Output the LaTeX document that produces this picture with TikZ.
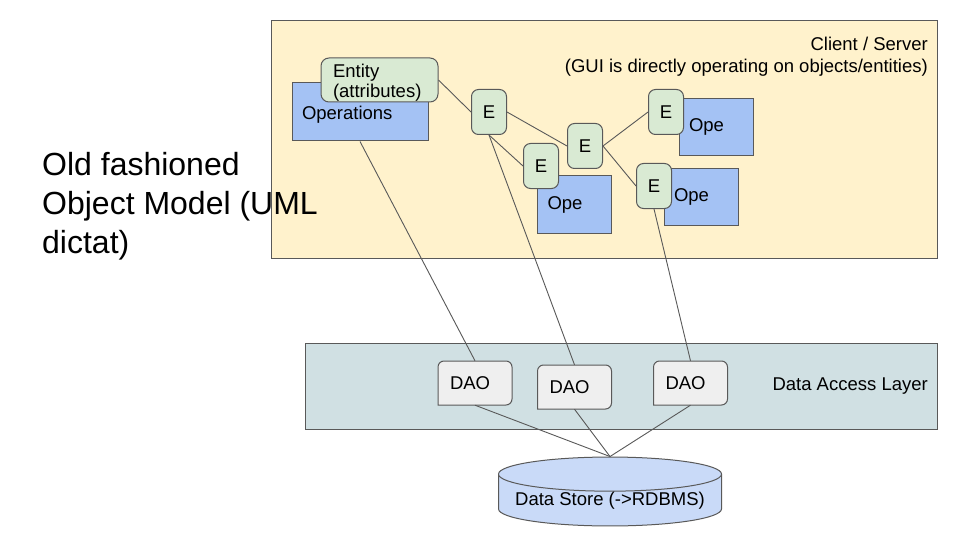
\documentclass[tikz,border=0pt]{standalone}
\usepackage{fontspec}
\setmainfont{Liberation Sans}
\usetikzlibrary{shapes.geometric}
\definecolor{clientbg}{HTML}{FFF2CC}
\definecolor{layerbg}{HTML}{D0E0E3}
\definecolor{opsblue}{HTML}{A4C2F4}
\definecolor{entgreen}{HTML}{D9EAD3}
\definecolor{daogray}{HTML}{EFEFEF}
\definecolor{storeblue}{HTML}{C9DAF8}
\definecolor{edgegray}{HTML}{595959}

\begin{document}
\begin{tikzpicture}[x=1pt,y=-1pt,
    font=\fontsize{18.5}{22}\selectfont,
    panel/.style={draw=edgegray, line width=1pt, anchor=north west, inner sep=0pt},
    opsbox/.style={draw=edgegray, fill=opsblue, line width=1pt, align=left, inner xsep=10pt, inner ysep=0pt},
    ebox/.style={draw=edgegray, fill=entgreen, line width=1pt, rounded corners=7pt, minimum width=35pt, minimum height=45pt, inner sep=0pt},
    daobox/.style={align=left, inner xsep=12pt, text width=50pt, minimum height=44pt, inner ysep=0pt},
    wire/.style={draw=edgegray, line width=0.9pt}]
    \path[fill=white] (0,0) rectangle (960,540);
    \useasboundingbox (0,0) rectangle (960,540);

    % the two layers
    \node[panel, fill=clientbg, minimum width=666pt, minimum height=238pt] (client) at (271,20) {};
    \node[panel, fill=layerbg, minimum width=632pt, minimum height=86pt] (dal) at (305,343) {};
    \node[anchor=north east, align=right, inner sep=0pt] (clientlbl) at ([shift={(-10,17)}]client.north east)
        {Client / Server\\(GUI is directly operating on objects/entities)};
    \node[anchor=east, inner sep=0pt] (dallbl) at ([xshift=-10]dal.east) {Data Access Layer};
    \node[anchor=north west, align=left, inner sep=0pt, font=\fontsize{32}{39}\selectfont] (title) at (42,152)
        {Old fashioned\\Object Model (UML\\dictat)};

    % objects
    \node[opsbox, text width=116pt, text height=19pt, minimum height=58pt] (ops) at (360,112) {Operations};
    \node[opsbox, fill=entgreen, rounded corners=8pt, inner xsep=12pt, text width=93pt, text height=19pt, minimum height=44pt] (entity) at (379.5,80)
        {Entity\\[-2pt](attributes)};
    \foreach \n/\px/\py in {2/574.5/204.5, 4/716/127, 5/701/197}
        \node[opsbox, text width=54pt, minimum height=57pt] (ope\n) at (\px,\py) {Ope};
    \foreach \n/\px/\py in {1/489/112, 2/541/166, 3/585/146, 4/666/112, 5/654/186}
        \node[ebox] (e\n) at (\px,\py) {E};

    % data access objects and store
    \foreach \n/\px/\py in {1/475/383, 2/574.5/387, 3/690.5/383} {
        \draw[draw=edgegray, fill=daogray, line width=1pt] (\px-37,\py+22) [rounded corners=6pt] -- (\px-37,\py-22)
            -- (\px+37,\py-22) -- (\px+37,\py+22) [sharp corners] -- cycle;
        \node[daobox] (dao\n) at (\px,\py) {DAO};
    }
    \node[cylinder, shape border rotate=90, aspect=0.18, draw=edgegray, fill=storeblue, line width=1pt,
        minimum width=223pt, minimum height=67pt, inner sep=0pt, anchor=shape center] (store) at (610,491.5) {Data Store (->RDBMS)};

    % links
    \draw[wire] (entity.east) -- (e1.west);
    \draw[wire] (e1.east) -- (e3.west);
    \draw[wire] (e1.south) -- (e2.west);
    \draw[wire] (e3.east) -- (e4.west);
    \draw[wire] (e3.east) -- (e5.west);
    \draw[wire] (ops.south) -- (dao1.north);
    \draw[wire] (e1.south) -- (dao2.north);
    \draw[wire] (e5.south) -- (dao3.north);
    \foreach \d in {dao1,dao2,dao3}
        \draw[wire] (\d.south) -- (store.north);
\end{tikzpicture}
\end{document}
